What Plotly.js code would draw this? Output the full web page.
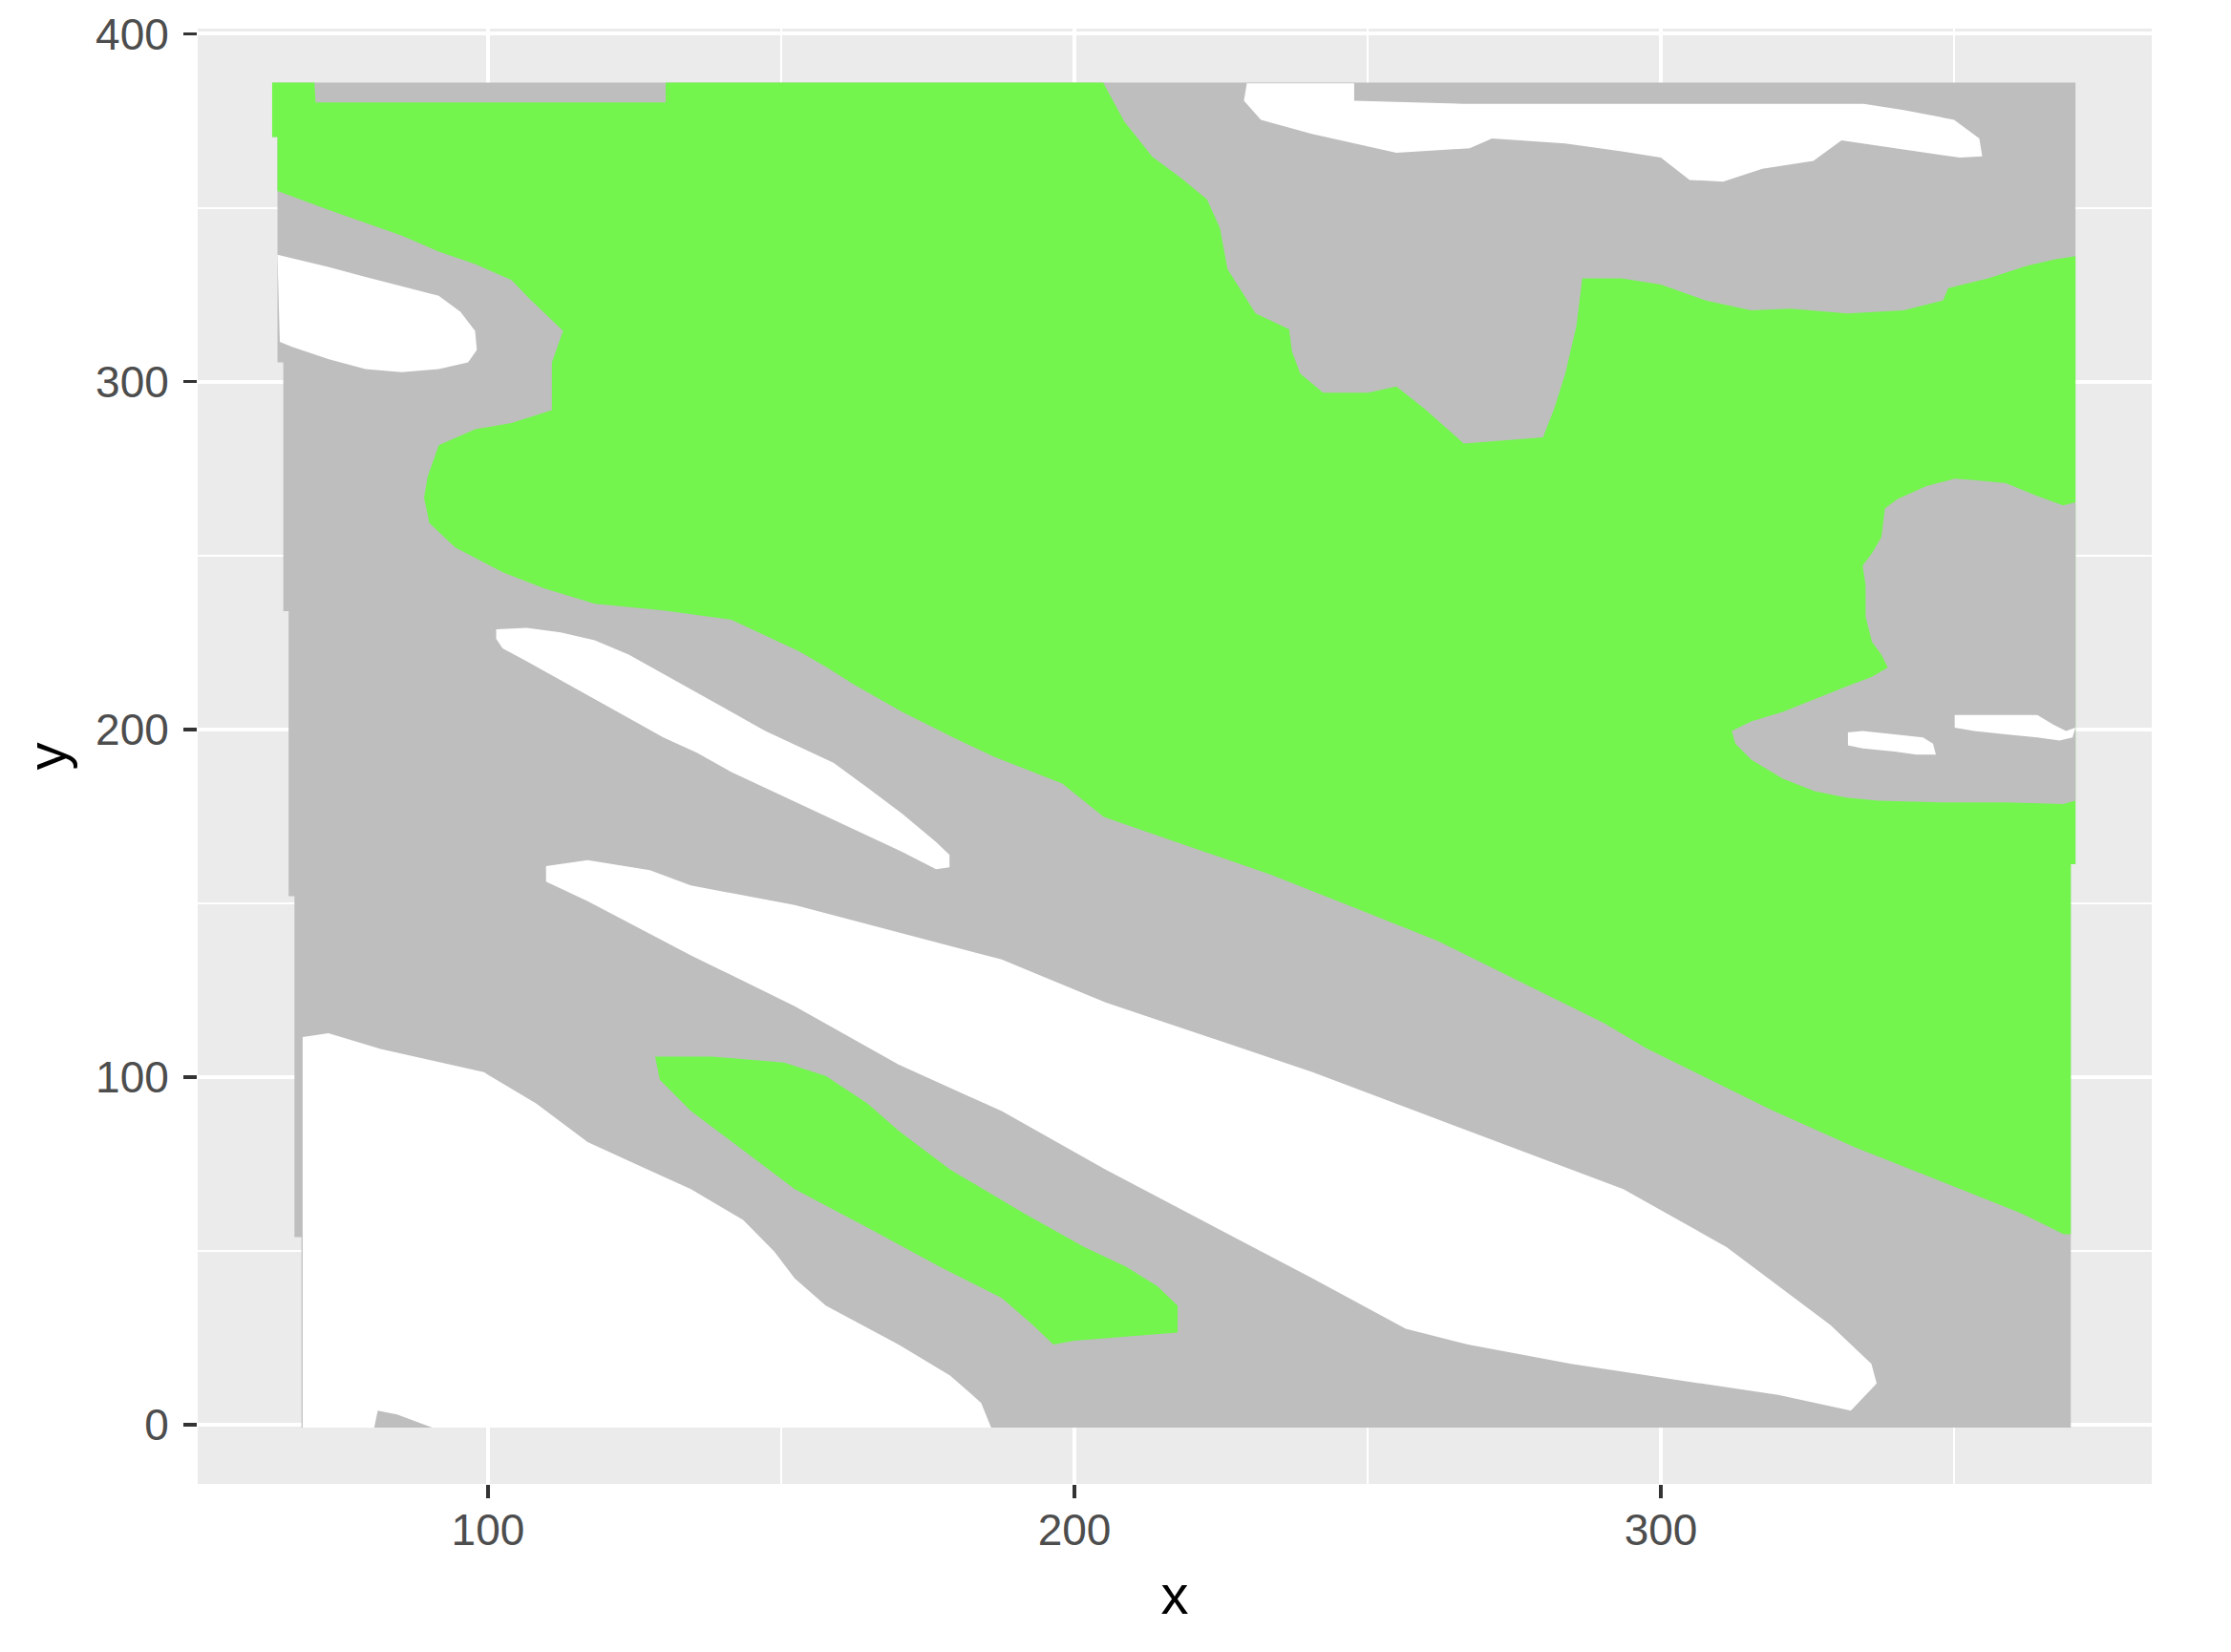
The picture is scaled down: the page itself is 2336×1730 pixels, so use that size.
<!DOCTYPE html>
<html>
<head>
<meta charset="utf-8">
<script src="https://cdn.plot.ly/plotly-3.0.1.min.js"></script>
<style>html,body{margin:0;padding:0;background:#fff;}#chart{width:2336px;height:1730px;}</style>
</head>
<body>
<div id="chart"></div>
<script>
// Region outlines (data units)
const greyOuterX = [63.2,370.7,370.7,369.9,369.9,68.2,68.2,67.0,67.0,66.0,66.0,65.1,65.1,64.1,64.1,63.2];
const greyOuterY = [386.0,386.0,161.2,161.2,-0.8,-0.8,54,54,152,152,234,234,305.5,305.5,370.3,370.3];

const greenMainX = [63.2,70.4,70.6,130.3,130.3,204.9,208.5,213.3,218.2,222.6,224.8,226.1,230.9,236.6,237.1,238.5,242.4,250.1,254.9,259.7,266.4,279.9,281.8,283.7,285.6,286.6,293.3,300.0,307.7,315.4,322.1,331.8,341.4,348.1,349.0,355.8,362.5,367.3,370.7,370.7,369.9,369.9,368.7,361.5,347.3,333.1,318.9,304.6,297.5,290.4,280.4,271.9,261.9,247.7,233.5,219.2,205.0,197.9,186.2,179.3,170.6,162.3,157.8,153.1,147.3,141.5,129.9,118.2,109.5,102.5,94.4,90.0,89.1,89.7,91.6,97.8,104.0,110.9,110.9,112.8,107.1,104.0,97.8,91.6,85.3,79.1,72.9,64.1,64.1,63.2];
const greenMainY = [386.0,386.0,380.3,380.3,386.0,386.0,374.8,364.6,358.5,352.4,344.2,332.4,319.6,315.1,308.7,302.3,296.8,296.8,298.6,292.2,282.2,284.0,292.2,302.3,316.0,329.7,329.7,327.9,323.3,320.5,321.0,319.6,320.5,323.3,326.9,329.7,333.3,335.2,336.1,161.2,161.2,54.8,54.8,60.8,70.3,79.8,90.5,102.4,108.3,115.4,123.8,130.9,139.2,148.7,158.2,166.5,174.8,184.4,192.2,197.7,205.0,213.0,217.8,222.4,226.9,231.5,234.2,236.1,240.6,245.2,252.3,259.3,266.6,272.6,281.7,286.3,288.1,291.8,305.5,314.6,323.8,329.2,333.8,337.4,342.0,345.7,349.3,354.8,370.3,370.3];

const greyBlobX = [370.7,368.6,364.2,358.8,353.4,350.1,345.2,340.3,338.2,337.6,336.0,334.4,334.9,334.9,336.0,337.6,338.7,336.0,331.6,326.2,320.8,315.4,312.1,312.7,315.4,320.8,326.2,331.6,337.1,347.9,358.8,368.6,370.7];
const greyBlobY = [265.3,264.4,267.1,270.8,271.7,272.1,269.9,266.2,263.5,255.3,250.7,247.0,241.6,232.4,225.1,221.5,217.8,215.1,212.3,208.7,205.0,202.3,199.5,195.9,191.3,185.8,182.2,180.4,179.5,179.0,179.0,178.5,179.5];

const greenLowX = [128.5,138.2,150.5,157.6,164.7,170.0,178.8,191.1,201.7,208.8,214.1,217.6,217.6,208.8,200.0,196.4,192.9,187.6,177.0,164.7,152.3,143.5,134.6,129.3];
const greenLowY = [105.9,105.9,104.2,100.3,92.4,84.6,73.4,61.1,51.1,45.5,39.9,34.3,26.5,25.3,24.2,23.1,28.7,36.5,45.5,56.7,67.8,79.0,90.2,99.2];

const whiteTopLeftX = [64.1,72.9,79.1,85.3,91.6,95.3,97.8,98.1,96.6,91.6,85.3,79.1,72.9,66.6,64.5];
const whiteTopLeftY = [336.5,332.9,330.1,327.4,324.7,320.1,314.6,309.1,305.5,303.6,302.7,303.6,306.4,310.0,311.4];

const whiteTopRightX = [229.4,247.7,247.7,266.4,334.6,341.4,350.0,354.3,354.8,351.0,330.8,326.0,317.3,310.6,304.9,300.0,293.3,283.7,271.2,267.4,254.9,240.5,231.8,228.9];
const whiteTopRightY = [385.8,385.8,380.8,379.9,379.9,378.1,375.3,369.9,364.8,364.4,369.4,363.5,361.2,357.5,358.0,364.4,366.2,368.5,369.9,367.1,365.8,371.2,375.3,380.8];

const whiteStreakX = [101.4,106.6,112.4,118.2,124.0,129.9,135.7,141.5,147.3,153.1,158.9,164.8,170.6,176.4,178.7,178.7,176.4,170.6,164.8,158.9,153.1,147.3,141.5,135.7,129.9,124.0,118.2,112.4,106.6,102.5,101.4];
const whiteStreakY = [228.8,229.2,227.9,225.6,221.5,216.0,210.5,205.0,199.5,195.0,190.4,183.1,175.8,167.6,163.9,160.3,159.8,164.8,169.4,174.0,178.5,183.1,187.7,193.2,197.7,203.2,208.7,214.2,219.6,223.3,226.0];

const whiteBlobAX = [331.9,334.4,339.8,344.7,346.4,346.9,343.6,339.8,334.4,331.9];
const whiteBlobAY = [199.1,199.5,198.6,197.7,195.9,192.7,192.7,193.6,194.5,195.4];
const whiteBlobBX = [350.1,364.2,366.9,369.1,370.7,370.2,368.0,364.2,358.8,353.4,350.1];
const whiteBlobBY = [204.1,204.1,201.4,199.5,200.5,197.7,196.8,197.7,198.6,199.5,200.5];

const whiteBandX = [109.9,117.0,127.6,134.6,152.3,170.0,187.6,205.3,222.9,240.6,258.2,275.9,293.6,311.2,320.0,328.9,335.9,336.8,332.4,320.0,302.4,284.7,267.1,256.5,240.6,222.9,205.3,187.6,170.0,152.3,134.6,117.0,109.9];
const whiteBandY = [160.7,162.4,159.5,155.1,149.5,141.6,133.8,121.5,111.5,101.4,90.2,79.0,67.8,51.1,39.9,28.7,17.5,11.9,4.1,8.6,13.0,17.5,23.1,27.6,42.1,57.8,73.4,90.2,103.6,120.4,135.0,150.6,156.2];

const whiteBottomX = [68.4,72.8,81.7,99.3,108.2,117.0,125.8,134.6,143.5,148.8,152.3,157.6,170.0,178.8,184.1,185.8,68.4];
const whiteBottomY = [111.5,112.6,108.1,101.4,92.4,81.3,74.5,67.8,58.9,49.9,42.1,34.3,23.1,14.2,6.3,-0.8,-0.8];

const greySliverX = [80.6,81.2,84.5,90.5];
const greySliverY = [-0.8,4.1,3.0,-0.8];

const xTicks = [100, 200, 300];
const yTicks = [0, 100, 200, 300, 400];

const GREY = '#BEBEBE', GREEN = '#73F54E', WHITE = '#FFFFFF';

function region(x, y, color) {
  return {type: 'scatter', mode: 'lines', x: x, y: y, fill: 'toself', fillcolor: color,
          line: {width: 0, color: color}, hoverinfo: 'skip', showlegend: false};
}

const traces = [
  region(greyOuterX, greyOuterY, GREY),
  region(greenMainX, greenMainY, GREEN),
  region(greyBlobX, greyBlobY, GREY),
  region(greenLowX, greenLowY, GREEN),
  region(whiteTopLeftX, whiteTopLeftY, WHITE),
  region(whiteTopRightX, whiteTopRightY, WHITE),
  region(whiteStreakX, whiteStreakY, WHITE),
  region(whiteBlobAX, whiteBlobAY, WHITE),
  region(whiteBlobBX, whiteBlobBY, WHITE),
  region(whiteBandX, whiteBandY, WHITE),
  region(whiteBottomX, whiteBottomY, WHITE),
  region(greySliverX, greySliverY, GREY)
];

const FONT = '"Liberation Sans", Arial, Helvetica, sans-serif';

const axisCommon = {
  showline: false, zeroline: false,
  ticks: 'outside', ticklen: 14, tickwidth: 3.5, tickcolor: '#333333',
  tickfont: {family: FONT, size: 46, color: '#4D4D4D'},
  showgrid: true, gridcolor: '#FFFFFF', gridwidth: 4,
  automargin: false
};

const layout = {
  width: 2336, height: 1730,
  margin: {l: 207, r: 83, t: 30, b: 176},
  paper_bgcolor: '#FFFFFF', plot_bgcolor: '#EBEBEB',
  showlegend: false,
  xaxis: Object.assign({}, axisCommon, {
    range: [50.5, 383.7], tickmode: 'array', tickvals: xTicks, ticktext: xTicks.map(String),
    ticklabelstandoff: -6,
    minor: {tickvals: [50,150,250,350], showgrid: true, gridcolor: '#FFFFFF', gridwidth: 2, ticks: ''},
    title: {text: 'x', font: {family: FONT, size: 58, color: '#000000'}, standoff: 22}
  }),
  yaxis: Object.assign({}, axisCommon, {
    range: [-17, 401.5], tickmode: 'array', tickvals: yTicks, ticktext: yTicks.map(String),
    ticklabelstandoff: 6,
    minor: {tickvals: [50,150,250,350], showgrid: true, gridcolor: '#FFFFFF', gridwidth: 2, ticks: ''},
    title: {text: 'y', font: {family: FONT, size: 58, color: '#000000'}, standoff: 11}
  })
};

Plotly.newPlot('chart', traces, layout, {staticPlot: true, displayModeBar: false});
</script>
</body>
</html>
